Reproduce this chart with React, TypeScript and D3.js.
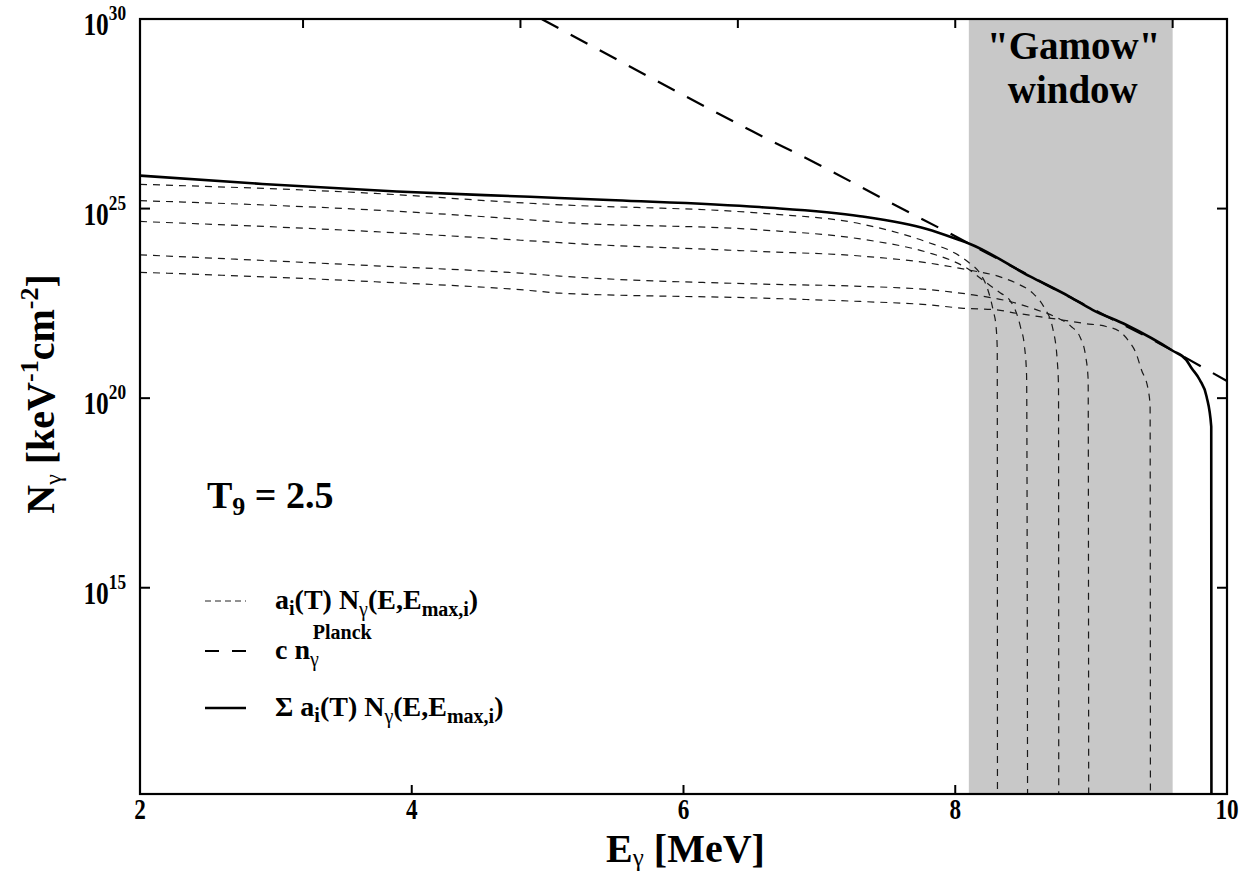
import * as d3 from 'd3'

// log10 of N_gamma, as [E (MeV), log10 N]
const planckCurve: [number, number][] = [
	[4.956, 30.0], [5.5, 28.95], [6, 27.99], [6.5, 27.05], [7, 26.15],
	[7.5, 25.2], [8, 24.27], [8.5, 23.32], [9, 22.37], [9.5, 21.45], [10, 20.45],
]

const sumCurve: [number, number][] = [
	[2, 25.87], [2.9, 25.65], [3.89, 25.45], [4.87, 25.31], [5.5, 25.22],
	[6.56, 25.04], [7.3, 24.8], [7.79, 24.46], [8.03, 24.17], [8.1, 24.08],
	[8.55, 23.21], [8.84, 22.68], [9.01, 22.33], [9.26, 21.93], [9.6, 21.25],
	[9.7, 21.01], [9.74, 20.79], [9.8, 20.48], [9.85, 20.04], [9.884, 19.25], [9.886, 5],
]

const partial1: [number, number][] = [
	[2, 25.64], [3.73, 25.4], [4.87, 25.14], [5.09, 25.1], [6.56, 24.88], [7.3, 24.6],
	[7.79, 24.12], [8.0, 23.82], [8.1, 23.58], [8.18, 23.3], [8.24, 22.86], [8.28, 22.3],
	[8.3, 21.9], [8.309, 21.3], [8.311, 5],
]
const partial2: [number, number][] = [
	[2, 25.21], [3.73, 24.96], [4.87, 24.7], [5.09, 24.64], [6.56, 24.44], [7.3, 24.2],
	[7.81, 23.83], [7.96, 23.65], [8.08, 23.44], [8.2, 23.12], [8.33, 22.78], [8.4, 22.59],
	[8.45, 22.25], [8.48, 21.88], [8.51, 21.35], [8.525, 20.6], [8.534, 5],
]
const partial3: [number, number][] = [
	[2, 24.66], [3.73, 24.39], [4.87, 24.15], [5.09, 24.1], [6.56, 23.87], [7.3, 23.75],
	[7.81, 23.56], [8.1, 23.38], [8.33, 23.2], [8.45, 23.03], [8.57, 22.77], [8.65, 22.42],
	[8.72, 21.8], [8.752, 20.93], [8.76, 20.3], [8.762, 5],
]
const partial4: [number, number][] = [
	[2, 23.78], [3.73, 23.49], [4.87, 23.28], [5.09, 23.22], [6.56, 23.01], [7.3, 22.95],
	[7.81, 22.86], [8.1, 22.74], [8.4, 22.55], [8.6, 22.33], [8.75, 22.12], [8.85, 21.9],
	[8.92, 21.6], [8.96, 21.1], [8.978, 20.5], [8.983, 5],
]
const partial5: [number, number][] = [
	[2, 23.32], [3.73, 23.07], [4.87, 22.84], [5.09, 22.77], [6.56, 22.64], [7.3, 22.55],
	[7.81, 22.46], [8.06, 22.37], [8.3, 22.33], [8.45, 22.24], [8.62, 22.15], [8.79, 22.06],
	[8.95, 21.97], [9.11, 21.89], [9.21, 21.76], [9.28, 21.49], [9.33, 21.19], [9.37, 20.75],
	[9.42, 20.22], [9.434, 19.8], [9.437, 5],
]
const partialCurves = [partial1, partial2, partial3, partial4, partial5]

const gamowWindow = [8.1, 9.6]
const xTicks = [2, 4, 6, 8, 10]
const topTicks = [3.2, 4.8, 6.4, 8.0, 9.6]
const yTickExps = [15, 20, 25, 30]

const W = 1256
const H = 871
const font = '"Liberation Serif", "Times New Roman", Times, serif'

export default function App() {
	const x = d3.scaleLinear().domain([2, 10]).range([140, 1227])
	const y = d3.scaleLog().domain([10 ** 9.56, 1e30]).range([794, 19])
	const [x0, x1] = x.range()
	const [y0, y1] = y.range()

	const line = d3
		.line<[number, number]>()
		.x(d => x(d[0]))
		.y(d => y(10 ** d[1]))
		.curve(d3.curveMonotoneX)

	const sub = 20

	return (
		<svg
			width={W}
			height={H}
			style={{ position: 'absolute', left: 0, top: 0, background: '#fff', fontFamily: font, fontWeight: 'bold' }}
		>
			<defs>
				<clipPath id="plot">
					<rect x={x0} y={y1} width={x1 - x0} height={y0 - y1} />
				</clipPath>
			</defs>

			{/* Gamow window */}
			<rect
				x={x(gamowWindow[0])}
				y={y1}
				width={x(gamowWindow[1]) - x(gamowWindow[0])}
				height={y0 - y1}
				fill="#c8c8c8"
			/>
			<text x={(x(gamowWindow[0]) + x(gamowWindow[1])) / 2 + 3} y={59} fontSize={39} textAnchor="middle">
				"Gamow"
			</text>
			<text x={(x(gamowWindow[0]) + x(gamowWindow[1])) / 2 + 2} y={103} fontSize={39} textAnchor="middle">
				window
			</text>

			<g clipPath="url(#plot)" fill="none">
				{partialCurves.map((c, i) => (
					<path key={i} d={line(c) ?? ''} stroke="#1a1a1a" strokeWidth={1.2} strokeDasharray="7 6" />
				))}
				<path d={line(planckCurve) ?? ''} stroke="#000" strokeWidth={2.2} strokeDasharray="19 14" />
				<path d={line(sumCurve) ?? ''} stroke="#000" strokeWidth={2.6} />
			</g>

			{/* frame */}
			<rect x={x0} y={y1} width={x1 - x0} height={y0 - y1} fill="none" stroke="#000" strokeWidth={2.2} />

			{xTicks.map(t => (
				<g key={t}>
					<line x1={x(t)} x2={x(t)} y1={y0} y2={y0 - 9} stroke="#000" strokeWidth={2} />
					<text transform={`translate(${x(t)},819) scale(0.8,1)`} fontSize={29} textAnchor="middle">
						{t}
					</text>
				</g>
			))}
			{topTicks.map(t => (
				<line key={t} x1={x(t)} x2={x(t)} y1={y1} y2={y1 + 9} stroke="#000" strokeWidth={2} />
			))}
			{yTickExps.map(e => (
				<g key={e}>
					<line x1={x0} x2={x0 + 10} y1={y(10 ** e)} y2={y(10 ** e)} stroke="#000" strokeWidth={2} />
					<line x1={x1} x2={x1 - 10} y1={y(10 ** e)} y2={y(10 ** e)} stroke="#000" strokeWidth={2} />
					<text transform={`translate(126,${y(10 ** e) + 16}) scale(0.82,1)`} textAnchor="end" fontSize={31}>
						<tspan>10</tspan>
						<tspan dy={-15} fontSize={21}>
							{e}
						</tspan>
					</text>
				</g>
			))}

			{/* axis titles */}
			<text x={(x0 + x1) / 2 + 2} y={862} fontSize={40} textAnchor="middle">
				<tspan>E</tspan>
				<tspan dy={4} fontSize={25} fontWeight="normal">
					γ
				</tspan>
				<tspan dy={-4}> [MeV]</tspan>
			</text>
			<text transform="translate(54,394) rotate(-90)" fontSize={40} textAnchor="middle">
				<tspan>N</tspan>
				<tspan dy={7} fontSize={24} fontWeight="normal">
					γ
				</tspan>
				<tspan dy={-7}> [keV</tspan>
				<tspan dy={-16} fontSize={26}>
					-1
				</tspan>
				<tspan dy={16}>cm</tspan>
				<tspan dy={-16} fontSize={26}>
					-2
				</tspan>
				<tspan dy={16}>]</tspan>
			</text>

			{/* temperature */}
			<text x={207} y={508} fontSize={38}>
				<tspan>T</tspan>
				<tspan dy={7} fontSize={26}>
					9
				</tspan>
				<tspan dy={-7}> = 2.5</tspan>
			</text>

			{/* legend */}
			<line x1={205} x2={246} y1={601} y2={601} stroke="#222" strokeWidth={1} strokeDasharray="6 4" />
			<text x={275} y={609} fontSize={28}>
				<tspan>a</tspan>
				<tspan dy={6} fontSize={sub}>i</tspan>
				<tspan dy={-6}>(T) N</tspan>
				<tspan dy={7} fontSize={sub} fontWeight="normal">γ</tspan>
				<tspan dy={-7}>(E,E</tspan>
				<tspan dy={7} fontSize={sub}>max,i</tspan>
				<tspan dy={-7}>)</tspan>
			</text>

			<line x1={205} x2={246} y1={651} y2={651} stroke="#000" strokeWidth={2} strokeDasharray="14 13" />
			<text x={275} y={659} fontSize={28}>
				<tspan>c n</tspan>
				<tspan dy={7} fontSize={sub} fontWeight="normal">γ</tspan>
				<tspan dx={-6} dy={-27} fontSize={sub}>Planck</tspan>
			</text>

			<line x1={205} x2={246} y1={708} y2={708} stroke="#000" strokeWidth={2.4} />
			<text x={275} y={716} fontSize={28}>
				<tspan>Σ a</tspan>
				<tspan dy={6} fontSize={sub}>i</tspan>
				<tspan dy={-6}>(T) N</tspan>
				<tspan dy={7} fontSize={sub} fontWeight="normal">γ</tspan>
				<tspan dy={-7}>(E,E</tspan>
				<tspan dy={7} fontSize={sub}>max,i</tspan>
				<tspan dy={-7}>)</tspan>
			</text>
		</svg>
	)
}
